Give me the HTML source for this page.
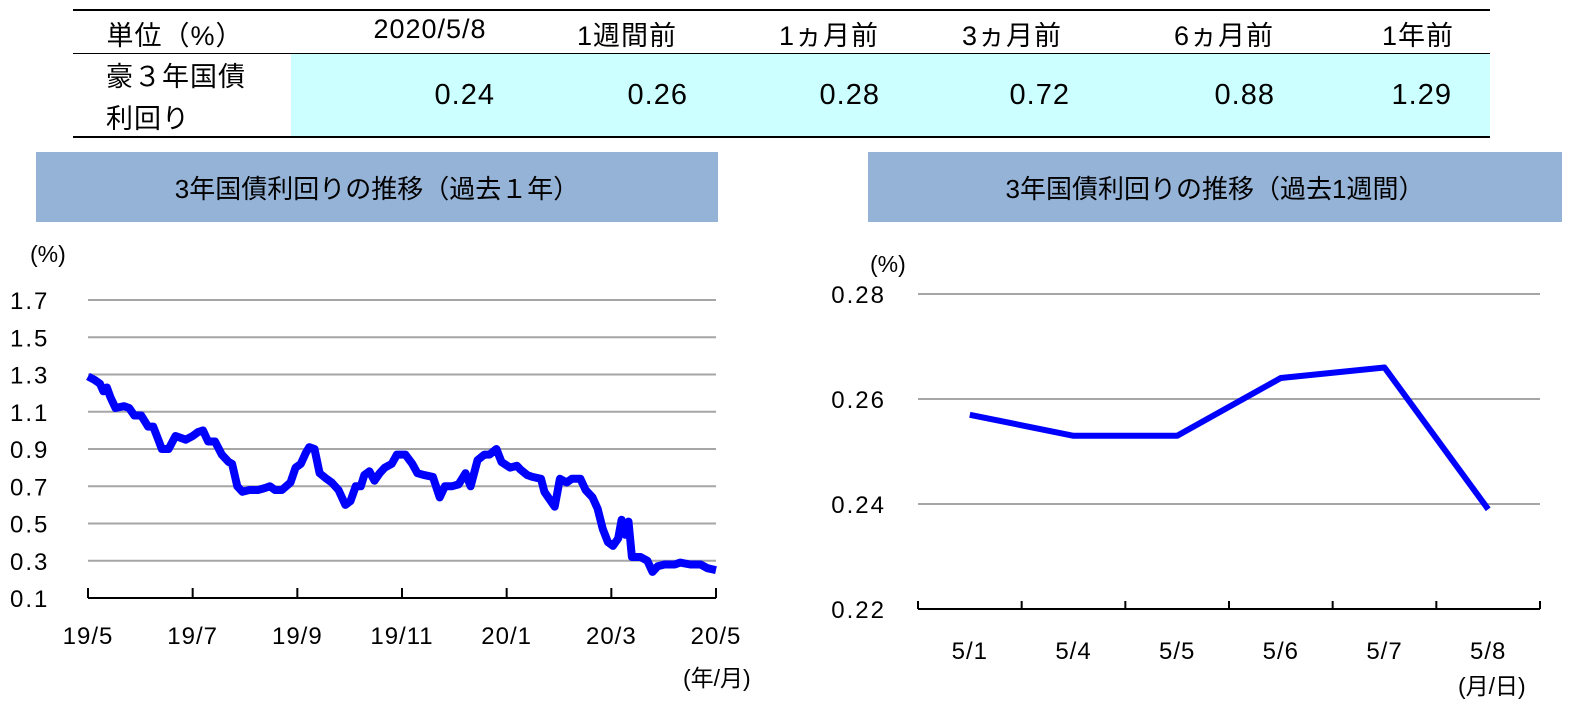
<!DOCTYPE html>
<html><head><meta charset="utf-8"><style>
body{margin:0;width:1576px;height:711px;background:#fff;font-family:"Liberation Sans","Noto Sans CJK JP",sans-serif;position:relative;overflow:hidden;color:#000}
.a{position:absolute;white-space:nowrap}
.bar{position:absolute;background:#95b3d7;font-size:26px;display:flex;align-items:center;justify-content:center}
</style></head><body>
<div class="a" style="left:291px;top:54px;width:1199px;height:83px;background:#ccffff"></div>
<div class="a" style="left:73px;top:9px;width:1417px;height:2px;background:#000"></div>
<div class="a" style="left:73px;top:53px;width:1417px;height:1px;background:#000"></div>
<div class="a" style="left:73px;top:136px;width:1417px;height:2px;background:#000"></div>
<div id="tbl"></div>
<div class="bar" style="left:36px;top:152px;width:682px;height:70px">3年国債利回りの推移（過去１年）</div>
<div class="bar" style="left:868px;top:152px;width:694px;height:70px">3年国債利回りの推移（過去1週間）</div>
<svg id="svg" width="1576" height="711" style="position:absolute;left:0;top:0"></svg>
<script>
const headers=["単位（%）","2020/5/8","1週間前","1ヵ月前","3ヵ月前","6ヵ月前","1年前"];
const tableVals=["0.24","0.26","0.28","0.72","0.88","1.29"];
const headerX=[175,430,627,829,1012,1224,1418];
const valRight=[495,688,880,1070,1275,1452];
// Left chart data
const yearDays=[0,4,7,9,11,13,16,21,24,27,31,35,38,41,43,47,51,57,61,64,67,70,74,78,82,84,87,90,94,99,103,106,109,113,118,121,124,127,129,132,135,139,142,146,150,153,156,159,161,164,167,170,173,177,180,182,185,189,192,196,201,205,208,212,216,220,223,225,227,231,234,238,241,246,250,252,256,259,264,266,272,275,279,282,287,290,294,297,300,303,306,309,311,313,315,317,322,326,329,332,336,342,345,351,357,361,366];
const yearVals=[1.29,1.27,1.25,1.21,1.23,1.18,1.12,1.13,1.12,1.08,1.08,1.02,1.02,0.95,0.90,0.90,0.97,0.95,0.97,0.99,1.00,0.94,0.94,0.87,0.83,0.82,0.70,0.67,0.68,0.68,0.69,0.70,0.68,0.68,0.72,0.80,0.82,0.88,0.91,0.90,0.77,0.74,0.72,0.68,0.60,0.62,0.70,0.70,0.76,0.78,0.73,0.77,0.80,0.82,0.87,0.87,0.87,0.82,0.77,0.76,0.75,0.64,0.70,0.70,0.71,0.77,0.70,0.77,0.84,0.87,0.87,0.90,0.83,0.80,0.81,0.79,0.76,0.75,0.74,0.67,0.59,0.74,0.72,0.74,0.74,0.68,0.64,0.58,0.47,0.40,0.38,0.42,0.52,0.44,0.51,0.32,0.32,0.30,0.24,0.27,0.28,0.28,0.29,0.28,0.28,0.26,0.25];
const leftYTicks=["0.1","0.3","0.5","0.7","0.9","1.1","1.3","1.5","1.7"];
const leftXLabels=["19/5","19/7","19/9","19/11","20/1","20/3","20/5"];
// Right chart data
const weekCats=["5/1","5/4","5/5","5/6","5/7","5/8"];
const weekVals=[0.257,0.253,0.253,0.264,0.266,0.239];
const rightYTicks=["0.22","0.24","0.26","0.28"];

const tbl=document.getElementById('tbl');
function div(txt,style,name){const d=document.createElement('div');d.className='a';d.textContent=txt;d.style.cssText=style;


tbl.appendChild(d);return d;}
headers.forEach((h,i)=>div(h,`left:${headerX[i]}px;top:14px;font-size:27px;letter-spacing:1px;transform:translateX(-50%)`,'table-header'));
div('豪３年国債',`left:106px;top:55px;font-size:27px;letter-spacing:1px`,'row-label');
div('利回り',`left:106px;top:97px;font-size:27px;letter-spacing:1px`,'row-label');
tableVals.forEach((v,i)=>div(v,`left:${valRight[i]}px;top:79px;font-size:29px;letter-spacing:1px;transform:translateX(-100%)`,'table-value'));

const svg=document.getElementById('svg');const NS='http://www.w3.org/2000/svg';
function el(tag,attrs,name,txt){const e=document.createElementNS(NS,tag);for(const k in attrs)e.setAttribute(k,attrs[k]);


if(txt!==undefined)e.textContent=txt;svg.appendChild(e);return e;}
const F='"Liberation Sans","Noto Sans CJK JP",sans-serif';
// Left chart
const L={x0:88,x1:716,y0:598,y1:300,vmin:0.1,vmax:1.7,dmax:366};
const lx=d=>L.x0+(d/L.dmax)*(L.x1-L.x0);
const ly=v=>L.y0-(v-L.vmin)/(L.vmax-L.vmin)*(L.y0-L.y1);
leftYTicks.forEach((t,i)=>{const y=ly(parseFloat(t));
 if(i>0)el('line',{x1:L.x0,x2:L.x1,y1:y,y2:y,stroke:'#a6a6a6','stroke-width':2},'left-gridline');
 el('text',{x:10,y:y+9,'font-size':24,'letter-spacing':2,'font-family':F},'left-y-tick',t);});
el('line',{x1:L.x0,x2:L.x1,y1:L.y0,y2:L.y0,stroke:'#000','stroke-width':2},'left-x-axis');
leftXLabels.forEach((t,i)=>{const x=L.x0+i*(L.x1-L.x0)/(leftXLabels.length-1);
 el('line',{x1:x,x2:x,y1:L.y0-10,y2:L.y0,stroke:'#000','stroke-width':2},'left-x-tick');
 el('text',{x:x,y:644,'font-size':24,'letter-spacing':1,'text-anchor':'middle','font-family':F},'left-x-label',t);});
el('text',{x:30,y:262,'font-size':23,'font-family':F},'left-y-unit','(%)');
el('text',{x:683,y:686,'font-size':23,'font-family':F},'left-x-unit','(年/月)');
const n=Math.min(yearDays.length,yearVals.length);
let p='';for(let i=0;i<n;i++)p+=(i?'L':'M')+lx(yearDays[i]).toFixed(1)+','+ly(yearVals[i]).toFixed(1);
el('path',{d:p,fill:'none',stroke:'#0000ff','stroke-width':8,'stroke-linejoin':'round'},'left-yield-line');
// Right chart
const R={x0:918,x1:1540,y0:609,y1:294,vmin:0.22,vmax:0.28};
const cw=(R.x1-R.x0)/weekCats.length;
const rx=i=>R.x0+cw*(i+0.5);
const ry=v=>R.y0-(v-R.vmin)/(R.vmax-R.vmin)*(R.y0-R.y1);
rightYTicks.forEach((t,i)=>{const y=ry(parseFloat(t));
 if(i>0)el('line',{x1:R.x0,x2:R.x1,y1:y,y2:y,stroke:'#a6a6a6','stroke-width':2},'right-gridline');
 el('text',{x:886,y:y+9,'font-size':24,'letter-spacing':2,'text-anchor':'end','font-family':F},'right-y-tick',t);});
el('line',{x1:R.x0,x2:R.x1,y1:R.y0,y2:R.y0,stroke:'#000','stroke-width':2},'right-x-axis');
for(let i=0;i<=weekCats.length;i++){const x=R.x0+i*cw;
 el('line',{x1:x,x2:x,y1:R.y0-8,y2:R.y0,stroke:'#000','stroke-width':2},'right-x-tick');}
weekCats.forEach((c,i)=>el('text',{x:rx(i),y:659,'font-size':24,'letter-spacing':1,'text-anchor':'middle','font-family':F},'right-x-label',c));
el('text',{x:870,y:272,'font-size':23,'font-family':F},'right-y-unit','(%)');
el('text',{x:1458,y:694,'font-size':23,'font-family':F},'right-x-unit','(月/日)');
let q='';weekVals.forEach((v,i)=>q+=(i?'L':'M')+rx(i).toFixed(1)+','+ry(v).toFixed(1));
el('path',{d:q,fill:'none',stroke:'#0000ff','stroke-width':6,'stroke-linejoin':'round'},'right-yield-line');
</script>
</body></html>
